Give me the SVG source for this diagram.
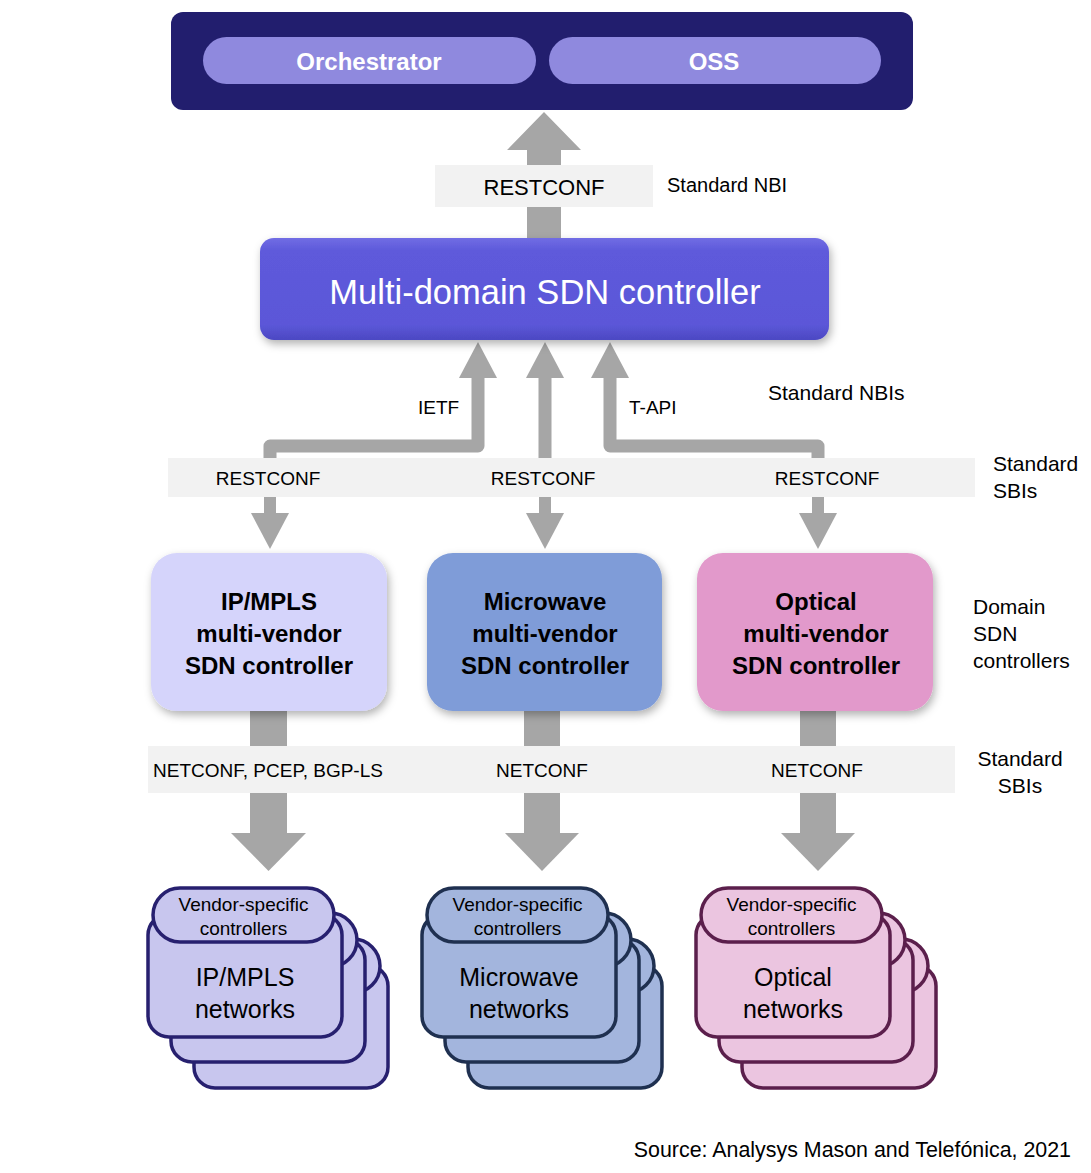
<svg xmlns="http://www.w3.org/2000/svg" width="1091" height="1173" viewBox="0 0 1091 1173">
<defs>
<style>
text{font-family:"Liberation Sans",Arial,sans-serif;fill:#000}
.c{text-anchor:middle}
.w{fill:#fff}
.b{font-weight:bold}
.lbl{font-size:19px}
.side{font-size:21px}
.arr{fill:#a6a6a6}
.ln{fill:none;stroke:#a6a6a6;stroke-width:13;stroke-linejoin:round}
.band{fill:#f2f2f2}
.ip rect{fill:#c8c6ee;stroke:#27206f;stroke-width:3.5}
.mw rect{fill:#a3b5dd;stroke:#1f3050;stroke-width:3.5}
.op rect{fill:#ebc5e0;stroke:#5b1f4c;stroke-width:3.5}
.vs{font-size:19px}
.nw{font-size:25px}
.dc{font-size:24px;font-weight:bold}
</style>
<filter id="sh" x="-10%" y="-10%" width="125%" height="135%">
<feDropShadow dx="2" dy="4" stdDeviation="4" flood-color="#000" flood-opacity="0.3"/>
</filter>
<linearGradient id="mg" x1="0" y1="0" x2="0" y2="1">
<stop offset="0" stop-color="#716de4"/>
<stop offset="0.12" stop-color="#5e5adb"/>
<stop offset="0.85" stop-color="#5b57d8"/>
<stop offset="1" stop-color="#4c48c2"/>
</linearGradient>
</defs>
<rect width="1091" height="1173" fill="#fff"/>

<g id="connectors">
<path class="arr" d="M527,238 V150 H507 L544,112 L581,150 H561 V238 Z"/>
<path class="ln" d="M270,458 V446 H478 V376"/>
<polygon class="arr" points="459,378 478,342 497,378"/>
<path class="ln" d="M545,458 V376"/>
<polygon class="arr" points="526,378 545,342 564,378"/>
<path class="ln" d="M818,458 V446 H610 V376"/>
<polygon class="arr" points="591,378 610,342 629,378"/>
<rect class="arr" x="264" y="496" width="12" height="19"/>
<polygon class="arr" points="251,513 289,513 270,549"/>
<rect class="arr" x="539" y="496" width="12" height="19"/>
<polygon class="arr" points="526,513 564,513 545,549"/>
<rect class="arr" x="812" y="496" width="12" height="19"/>
<polygon class="arr" points="799,513 837,513 818,549"/>
<rect class="arr" x="250" y="705" width="37" height="130"/>
<polygon class="arr" points="231,833 306,833 268.5,871"/>
<rect class="arr" x="524" y="705" width="36" height="130"/>
<polygon class="arr" points="505,833 579,833 542,871"/>
<rect class="arr" x="800" y="705" width="36" height="130"/>
<polygon class="arr" points="781,833 855,833 818,871"/>
</g>

<g id="top-layer">
<rect x="171" y="12" width="742" height="98" rx="12" fill="#221e6e"/>
</g>
<g id="orchestrator">
<rect x="203" y="37" width="333" height="47" rx="23.5" fill="#8f89de"/>
<text class="c w b" x="369" y="70" font-size="24">Orchestrator</text>
</g>
<g id="oss">
<rect x="549" y="37" width="332" height="47" rx="23.5" fill="#8f89de"/>
<text class="c w b" x="714" y="70" font-size="24">OSS</text>
</g>

<g id="nbi-label">
<rect class="band" x="435" y="165" width="218" height="42"/>
<text class="c" x="544" y="195" font-size="22">RESTCONF</text>
<text x="667" y="192" font-size="20">Standard NBI</text>
</g>

<g id="multi-domain">
<rect x="260" y="238" width="569" height="102" rx="14" fill="url(#mg)" filter="url(#sh)"/>
<text class="c w" x="545" y="304" font-size="34.5">Multi-domain SDN controller</text>
</g>

<g id="nbi-labels">
<text class="lbl" x="418" y="414">IETF</text>
<text class="lbl" x="629" y="414">T-API</text>
<text class="side" x="768" y="400">Standard NBIs</text>
</g>

<g id="restconf-band">
<rect class="band" x="168" y="458" width="807" height="39"/>
<text class="c lbl" x="268" y="485">RESTCONF</text>
<text class="c lbl" x="543" y="485">RESTCONF</text>
<text class="c lbl" x="827" y="485">RESTCONF</text>
<text class="side" x="993" y="471">Standard</text>
<text class="side" x="993" y="498">SBIs</text>
</g>

<g id="ip-controller">
<rect x="151" y="553" width="236" height="158" rx="26" fill="#d5d4fb" filter="url(#sh)"/>
<text class="c dc" x="269" y="610">IP/MPLS</text>
<text class="c dc" x="269" y="642">multi-vendor</text>
<text class="c dc" x="269" y="674">SDN controller</text>
</g>
<g id="mw-controller">
<rect x="427" y="553" width="235" height="158" rx="26" fill="#7f9cd8" filter="url(#sh)"/>
<text class="c dc" x="545" y="610">Microwave</text>
<text class="c dc" x="545" y="642">multi-vendor</text>
<text class="c dc" x="545" y="674">SDN controller</text>
</g>
<g id="op-controller">
<rect x="697" y="553" width="236" height="158" rx="26" fill="#e299cb" filter="url(#sh)"/>
<text class="c dc" x="816" y="610">Optical</text>
<text class="c dc" x="816" y="642">multi-vendor</text>
<text class="c dc" x="816" y="674">SDN controller</text>
</g>
<g id="domain-label">
<text class="side" x="973" y="614">Domain</text>
<text class="side" x="973" y="641">SDN</text>
<text class="side" x="973" y="668">controllers</text>
</g>

<g id="netconf-band">
<rect class="band" x="148" y="746" width="807" height="47"/>
<text class="c lbl" x="268" y="777">NETCONF, PCEP, BGP-LS</text>
<text class="c lbl" x="542" y="777">NETCONF</text>
<text class="c lbl" x="817" y="777">NETCONF</text>
<text class="c side" x="1020" y="766">Standard</text>
<text class="c side" x="1020" y="793">SBIs</text>
</g>

<g id="ip-networks" class="ip">
<g transform="translate(46,51)"><rect x="148" y="914" width="194" height="123" rx="21"/><rect x="153" y="888" width="181" height="54" rx="27"/></g>
<g transform="translate(23,25)"><rect x="148" y="914" width="194" height="123" rx="21"/><rect x="153" y="888" width="181" height="54" rx="27"/></g>
<rect x="148" y="914" width="194" height="123" rx="21"/><rect x="153" y="888" width="181" height="54" rx="27"/>
<text class="c vs" x="243.5" y="911">Vendor-specific</text>
<text class="c vs" x="243.5" y="935">controllers</text>
<text class="c nw" x="245" y="986">IP/MPLS</text>
<text class="c nw" x="245" y="1018">networks</text>
</g>

<g id="mw-networks" class="mw" transform="translate(274,0)">
<g transform="translate(46,51)"><rect x="148" y="914" width="194" height="123" rx="21"/><rect x="153" y="888" width="181" height="54" rx="27"/></g>
<g transform="translate(23,25)"><rect x="148" y="914" width="194" height="123" rx="21"/><rect x="153" y="888" width="181" height="54" rx="27"/></g>
<rect x="148" y="914" width="194" height="123" rx="21"/><rect x="153" y="888" width="181" height="54" rx="27"/>
<text class="c vs" x="243.5" y="911">Vendor-specific</text>
<text class="c vs" x="243.5" y="935">controllers</text>
<text class="c nw" x="245" y="986">Microwave</text>
<text class="c nw" x="245" y="1018">networks</text>
</g>

<g id="op-networks" class="op" transform="translate(548,0)">
<g transform="translate(46,51)"><rect x="148" y="914" width="194" height="123" rx="21"/><rect x="153" y="888" width="181" height="54" rx="27"/></g>
<g transform="translate(23,25)"><rect x="148" y="914" width="194" height="123" rx="21"/><rect x="153" y="888" width="181" height="54" rx="27"/></g>
<rect x="148" y="914" width="194" height="123" rx="21"/><rect x="153" y="888" width="181" height="54" rx="27"/>
<text class="c vs" x="243.5" y="911">Vendor-specific</text>
<text class="c vs" x="243.5" y="935">controllers</text>
<text class="c nw" x="245" y="986">Optical</text>
<text class="c nw" x="245" y="1018">networks</text>
</g>

<text x="1071" y="1157" font-size="21.4" text-anchor="end">Source: Analysys Mason and Telefónica, 2021</text>
</svg>
